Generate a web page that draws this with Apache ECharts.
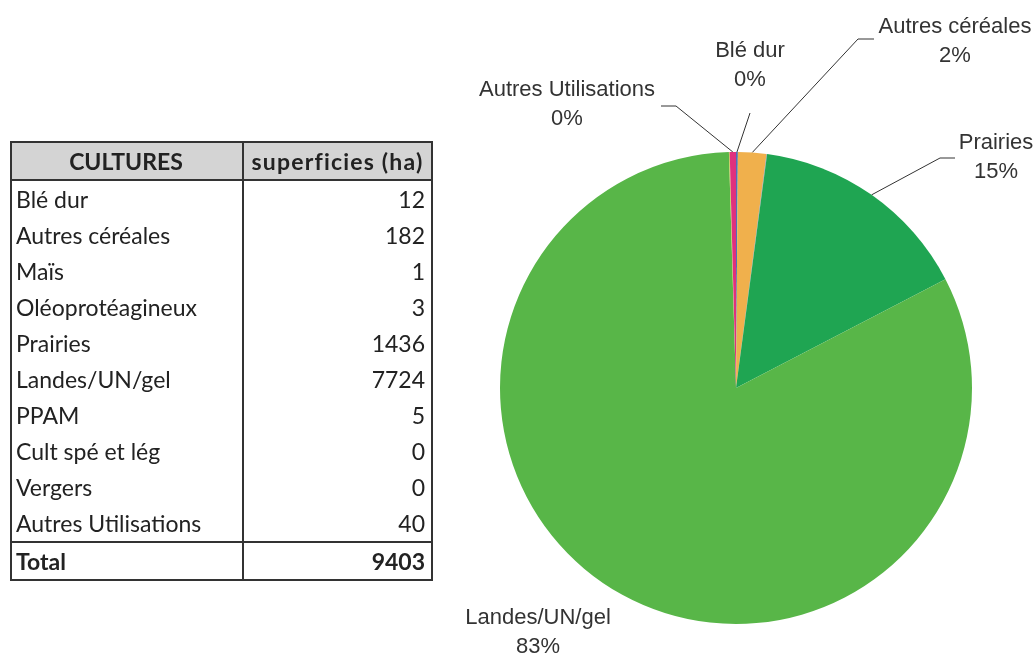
<!DOCTYPE html>
<html>
<head>
<meta charset="utf-8">
<title>Cultures - superficies</title>
<script src="https://cdn.jsdelivr.net/npm/echarts@6/dist/echarts.min.js"></script>
<style>
  html, body { margin: 0; padding: 0; background: #fff; }
  #main { position: absolute; left: 0; top: 0; width: 1035px; height: 657px; }
  #tbl {
    position: absolute; left: 10px; top: 141px; width: 423px;
    border-collapse: collapse; font-family: Lato, "Open Sans", sans-serif;
    font-size: 23px; color: #222; border: 2px solid #333;
  }
  #tbl td, #tbl th { padding: 0 6px 0 4px; height: 36px; line-height: 36px; white-space: nowrap; }
  #tbl th { background: #d4d4d4; border-bottom: 2px solid #333; font-weight: bold; text-align: center; height: 36px; }
  #tbl th.h2 { letter-spacing: 1.2px; padding: 0 2px; }
  #tbl td.c1, #tbl th.c1 { width: 220px; border-right: 2px solid #333; }
  #tbl td.num { text-align: right; }
  #tbl tr.total td { border-top: 2px solid #333; font-weight: bold; }
</style>
</head>
<body>
<div id="main"></div>
<table id="tbl"></table>
<script>
  // cultures et superficies (ha), lues dans le tableau
  var cultures = ['Blé dur', 'Autres céréales', 'Maïs', 'Oléoprotéagineux', 'Prairies',
                  'Landes/UN/gel', 'PPAM', 'Cult spé et lég', 'Vergers', 'Autres Utilisations'];
  var superficies = [12, 182, 1, 3, 1436, 7724, 5, 0, 0, 40];
  var total = 9403;
  // couleurs des parts
  var couleurs = ['#4f6fb8', '#f0b04c', '#9a8fb0', '#8c8c96', '#1fa552',
                  '#58b648', '#c9c94a', '#7f7f7f', '#a0a0a0', '#e0307e'];
  // étiquettes affichées sur le camembert (texte tel qu'il apparaît)
  var etiquettesPct = {
    'Blé dur': '0%',
    'Autres céréales': '2%',
    'Prairies': '15%',
    'Landes/UN/gel': '83%',
    'Autres Utilisations': '0%'
  };

  // tableau
  var tbl = document.getElementById('tbl');
  var html = '<tr><th class="c1">CULTURES</th><th class="h2">superficies (ha)</th></tr>';
  for (var i = 0; i < cultures.length; i++) {
    html += '<tr><td class="c1">' + cultures[i] + '</td><td class="num">' + superficies[i] + '</td></tr>';
  }
  html += '<tr class="total"><td class="c1">Total</td><td class="num">' + total + '</td></tr>';
  tbl.innerHTML = html;

  // position des étiquettes (centre du texte) et trait de rappel (coude, bout)
  var placement = {
    'Autres Utilisations': { x: 567, y: 104, line: [[676, 106], [661, 106]] },
    'Blé dur': { x: 750, y: 65, line: [[750, 113]] },
    'Autres céréales': { x: 955, y: 41, line: [[858, 39], [874, 39]] },
    'Prairies': { x: 996, y: 157, line: [[940, 158], [955, 158]] },
    'Landes/UN/gel': { x: 538, y: 632 }
  };

  var data = cultures.map(function (nom, i) {
    var montre = etiquettesPct[nom] !== undefined;
    return {
      name: nom,
      value: superficies[i],
      itemStyle: { color: couleurs[i] },
      label: { show: montre },
      labelLine: { show: montre && nom !== 'Landes/UN/gel' }
    };
  });

  var chart = echarts.init(document.getElementById('main'));
  chart.setOption({
    animation: false,
    series: [{
      type: 'pie',
      center: [736, 388],
      radius: 236,
      startAngle: 90,
      clockwise: true,
      minAngle: 0,
      avoidLabelOverlap: false,
      stillShowZeroSum: true,
      itemStyle: { borderWidth: 0 },
      label: {
        position: 'outside',
        fontFamily: '"Liberation Sans", Arial, sans-serif',
        fontSize: 22,
        lineHeight: 29,
        color: '#333',
        align: 'center',
        formatter: function (p) { return p.name + '\n' + etiquettesPct[p.name]; }
      },
      labelLine: { lineStyle: { color: '#333', width: 1 }, length: 20, length2: 10 },
      labelLayout: function (p) {
        var pl = placement[cultures[p.dataIndex]];
        if (!pl) return {};
        var res = { x: pl.x, y: pl.y, align: 'center', verticalAlign: 'middle' };
        if (pl.line && p.labelLinePoints) {
          res.labelLinePoints = [p.labelLinePoints[0]].concat(pl.line);
        }
        return res;
      },
      data: data
    }]
  });
</script>
</body>
</html>
